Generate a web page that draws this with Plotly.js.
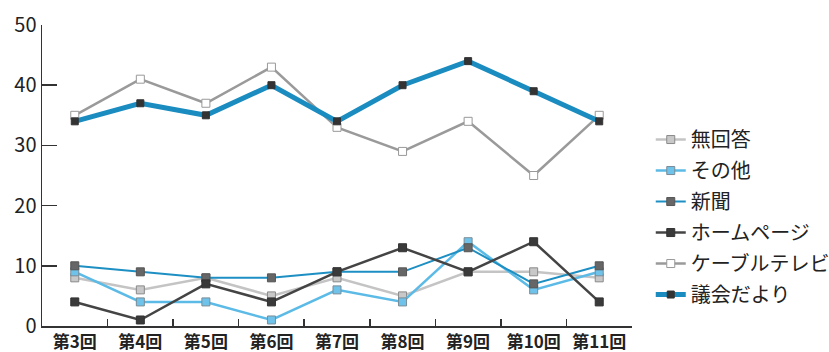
<!DOCTYPE html>
<html>
<head>
<meta charset="utf-8">
<script src="https://cdn.plot.ly/plotly-3.0.1.min.js"></script>
<style>html,body{margin:0;padding:0;background:#fff;}#chart{width:829px;height:352px;}</style>
</head>
<body>
<div id="chart"></div>
<script>
var categories = ["第3回","第4回","第5回","第6回","第7回","第8回","第9回","第10回","第11回"];
var seriesNames = ["無回答","その他","新聞","ホームページ","ケーブルテレビ","議会だより"];
var mukaitou   = [8, 6, 8, 5, 8, 5, 9, 9, 8];
var sonota     = [9, 4, 4, 1, 6, 4, 14, 6, 9];
var shinbun    = [10, 9, 8, 8, 9, 9, 13, 7, 10];
var homepage   = [4, 1, 7, 4, 9, 13, 9, 14, 4];
var cabletv    = [35, 41, 37, 43, 33, 29, 34, 25, 35];
var gikai      = [34, 37, 35, 40, 34, 40, 44, 39, 34];
var yTicks     = [0, 10, 20, 30, 40, 50];

var values = [mukaitou, sonota, shinbun, homepage, cabletv, gikai];
var styles = [
  {lc:"#c4c4c4", lw:2.5, mc:"#c8c8c8", ml:"#8a8a8a", ms:8},
  {lc:"#5cbbe6", lw:2.5, mc:"#6fc3ea", ml:"#7a8c96", ms:8},
  {lc:"#1d8fc3", lw:2,   mc:"#666666", ml:"#555555", ms:8},
  {lc:"#444444", lw:2.5, mc:"#3a3a3a", ml:"#333333", ms:8},
  {lc:"#9a9a9a", lw:2.5, mc:"#ffffff", ml:"#999999", ms:8},
  {lc:"#1a8cc0", lw:5,   mc:"#333333", ml:"#333333", ms:7}
];

var traces = seriesNames.map(function(n, i){
  var s = styles[i];
  return {
    type:"scatter", mode:"lines+markers", name:n, x:categories, y:values[i],
    legendgroup:"g"+i,
    line:{color:s.lc, width:s.lw},
    marker:{symbol:"square", size:s.ms, color:s.mc, line:{color:s.ml, width:1}},
    hoverinfo:"skip"
  };
});

var layout = {
  width:829, height:352,
  margin:{l:42, r:197, t:25, b:26},
  paper_bgcolor:"#fff", plot_bgcolor:"#fff",
  font:{family:"'Noto Sans CJK JP', 'Noto Sans', sans-serif", color:"#222"},
  showlegend:true,
  legend:{xref:"container", yref:"container", x:0.785, y:0.659, xanchor:"left", yanchor:"top", tracegroupgap:2,
          maxheight:1,
          font:{size:20, color:"#222"}, bgcolor:"rgba(0,0,0,0)"},
  xaxis:{
    type:"category", tickson:"boundaries", ticks:"inside", ticklen:7, tickwidth:1.5, tickcolor:"#333",
    showline:true, linecolor:"#333", linewidth:1.5, showgrid:false, zeroline:false, tickangle:0,
    tickfont:{size:17, color:"#222", weight:"bold"}, range:[-0.5, 8.5], fixedrange:true
  },
  yaxis:{
    range:[0,50], tickvals:yTicks, ticktext:yTicks.map(String), ticks:"inside", ticklen:15, tickwidth:1.5, tickcolor:"#333",
    showline:true, linecolor:"#333", linewidth:1.5, showgrid:false, zeroline:false,
    tickfont:{size:20, color:"#222"}, fixedrange:true
  }
};

Plotly.newPlot("chart", traces, layout, {displayModeBar:false, staticPlot:true});
</script>
</body>
</html>
